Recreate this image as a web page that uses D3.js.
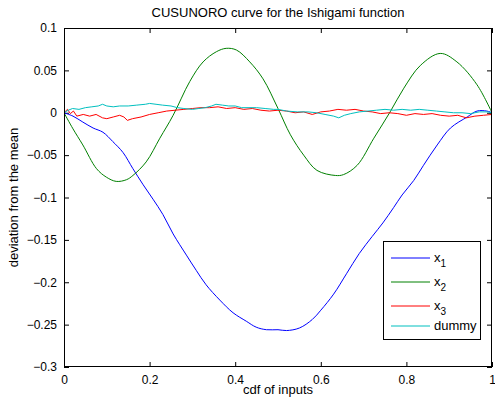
<!DOCTYPE html>
<html>
<head>
<meta charset="utf-8">
<script src="https://cdn.jsdelivr.net/npm/d3@7"></script>
<style>
  body { margin: 0; background: #fff; }
  text { font-family: "Liberation Sans", Arial, Helvetica, sans-serif; fill: #000; }
</style>
</head>
<body>
<svg id="chart" width="495" height="399"></svg>
<script>
const titleText = "CUSUNORO curve for the Ishigami function";
const xLabel = "cdf of inputs";
const yLabel = "deviation from the mean";
const xTicks = [0, 0.2, 0.4, 0.6, 0.8, 1];
const xTickLabels = ["0", "0.2", "0.4", "0.6", "0.8", "1"];
const yTicks = [0.1, 0.05, 0, -0.05, -0.1, -0.15, -0.2, -0.25, -0.3];
const yTickLabels = ["0.1", "0.05", "0", "\u22120.05", "\u22120.1", "\u22120.15", "\u22120.2", "\u22120.25", "\u22120.3"];
const seriesNames = ["x1", "x2", "x3", "dummy"];
const seriesColors = ["#0000ff", "#008000", "#ff0000", "#00bfbf"];

const x1Data = [[0,0],[0.021,-0.004],[0.044,-0.011],[0.068,-0.018],[0.091,-0.023],[0.114,-0.034],[0.138,-0.047],[0.161,-0.066],[0.185,-0.085],[0.208,-0.102],[0.231,-0.120],[0.255,-0.143],[0.286,-0.168],[0.309,-0.186],[0.332,-0.203],[0.364,-0.221],[0.395,-0.236],[0.426,-0.246],[0.449,-0.253],[0.473,-0.256],[0.5,-0.256],[0.52,-0.257],[0.55,-0.254],[0.58,-0.244],[0.6,-0.233],[0.63,-0.214],[0.66,-0.190],[0.69,-0.166],[0.72,-0.146],[0.745,-0.130],[0.77,-0.112],[0.79,-0.097],[0.817,-0.080],[0.84,-0.062],[0.872,-0.038],[0.903,-0.018],[0.942,-0.005],[0.965,0.002],[0.988,0.002],[1,0]];
const x2Data = [[0,0],[0.021,-0.019],[0.044,-0.038],[0.076,-0.066],[0.099,-0.076],[0.122,-0.081],[0.146,-0.079],[0.161,-0.074],[0.192,-0.058],[0.224,-0.030],[0.255,-0.003],[0.294,0.037],[0.325,0.060],[0.356,0.072],[0.379,0.076],[0.403,0.074],[0.434,0.060],[0.465,0.040],[0.5,0.005],[0.529,-0.026],[0.56,-0.050],[0.591,-0.068],[0.634,-0.074],[0.653,-0.073],[0.685,-0.062],[0.724,-0.030],[0.762,0.001],[0.794,0.029],[0.833,0.056],[0.879,0.070],[0.918,0.060],[0.965,0.033],[1,0]];
const x3Data = [[0,0],[0.008,0.004],[0.015,-0.001],[0.022,0.002],[0.03,-0.004],[0.045,-0.002],[0.06,-0.004],[0.075,-0.002],[0.09,-0.006],[0.1,-0.007],[0.115,-0.005],[0.13,-0.003],[0.14,-0.005],[0.148,-0.009],[0.16,-0.007],[0.18,-0.005],[0.2,-0.002],[0.22,0.000],[0.24,0.002],[0.26,0.003],[0.28,0.004],[0.3,0.005],[0.32,0.006],[0.34,0.006],[0.36,0.007],[0.38,0.005],[0.4,0.006],[0.42,0.004],[0.44,0.005],[0.46,0.003],[0.48,0.002],[0.5,0.003],[0.52,0.002],[0.54,0.000],[0.56,0.001],[0.58,-0.002],[0.6,0.001],[0.62,0.002],[0.64,0.004],[0.66,0.003],[0.68,0.004],[0.7,0.002],[0.72,0.001],[0.74,-0.001],[0.76,0.000],[0.78,-0.001],[0.8,-0.003],[0.82,-0.001],[0.84,-0.002],[0.86,-0.001],[0.88,-0.003],[0.9,-0.004],[0.92,-0.003],[0.94,-0.006],[0.96,-0.004],[0.98,-0.003],[1,-0.002]];
const dummyData = [[0,0],[0.01,0.003],[0.02,0.005],[0.035,0.004],[0.05,0.006],[0.065,0.007],[0.08,0.008],[0.09,0.010],[0.1,0.008],[0.115,0.007],[0.13,0.008],[0.15,0.008],[0.17,0.009],[0.19,0.010],[0.2,0.011],[0.215,0.010],[0.23,0.009],[0.25,0.008],[0.265,0.006],[0.28,0.005],[0.3,0.004],[0.315,0.005],[0.33,0.006],[0.345,0.008],[0.355,0.010],[0.37,0.009],[0.385,0.008],[0.4,0.008],[0.415,0.006],[0.43,0.006],[0.45,0.006],[0.47,0.005],[0.49,0.004],[0.5,0.004],[0.52,0.002],[0.545,0.001],[0.57,0.001],[0.59,0.000],[0.61,-0.002],[0.63,-0.004],[0.642,-0.006],[0.655,-0.003],[0.67,-0.001],[0.69,0.001],[0.71,0.002],[0.73,0.003],[0.75,0.004],[0.77,0.003],[0.79,0.004],[0.81,0.003],[0.83,0.004],[0.85,0.003],[0.87,0.002],[0.89,0.001],[0.91,0.000],[0.93,0.000],[0.95,-0.001],[0.97,0.001],[0.99,0.001],[1,0]];
const allSeries = [x1Data, x2Data, x3Data, dummyData];

const svg = d3.select("#chart");
const L = 64, T = 28, R = 492, B = 367;
const x = d3.scaleLinear().domain([0, 1]).range([L, R]);
const y = d3.scaleLinear().domain([-0.3, 0.1]).range([B, T]);

const tickLen = 5;
const fmtX = (d, i) => xTickLabels[i];
const fmtY = (d, i) => yTickLabels[i];
const axB = svg.append("g").attr("transform", `translate(0,${B})`)
  .call(d3.axisBottom(x).tickValues(xTicks).tickFormat(fmtX).tickSizeInner(-tickLen).tickSizeOuter(0).tickPadding(8));
const axT = svg.append("g").attr("transform", `translate(0,${T})`)
  .call(d3.axisTop(x).tickValues(xTicks).tickFormat("").tickSizeInner(-tickLen).tickSizeOuter(0));
const axL = svg.append("g").attr("transform", `translate(${L},0)`)
  .call(d3.axisLeft(y).tickValues(yTicks).tickFormat(fmtY).tickSizeInner(-tickLen).tickSizeOuter(0).tickPadding(7));
const axR = svg.append("g").attr("transform", `translate(${R},0)`)
  .call(d3.axisRight(y).tickValues(yTicks).tickFormat("").tickSizeInner(-tickLen).tickSizeOuter(0));
[axB, axT, axL, axR].forEach(g => {
  g.select(".domain").remove();
  g.selectAll("line").attr("stroke", "#000");
  g.selectAll("text").attr("font-size", 12).attr("font-family", "Liberation Sans, Arial, sans-serif");
});

const smooth = [true, true, false, false];
const clip = svg.append("clipPath").attr("id", "clip").append("rect")
  .attr("x", L).attr("y", T).attr("width", R - L).attr("height", B - T);
allSeries.forEach((s, i) => {
  const line = d3.line().x(d => x(d[0])).y(d => y(d[1]))
    .curve(smooth[i] ? d3.curveCatmullRom : d3.curveLinear);
  svg.append("path").datum(s).attr("d", line).attr("fill", "none")
    .attr("stroke", seriesColors[i]).attr("stroke-width", 1).attr("clip-path", "url(#clip)");
});

svg.append("rect").attr("x", L + 0.5).attr("y", T + 0.5).attr("width", R - L - 1).attr("height", B - T - 1)
  .attr("fill", "none").attr("stroke", "#000").attr("stroke-width", 1);

svg.append("text").attr("x", (L + R) / 2).attr("y", 17).attr("text-anchor", "middle")
  .attr("font-size", 13).text(titleText);
svg.append("text").attr("x", (L + R) / 2).attr("y", 394).attr("text-anchor", "middle")
  .attr("font-size", 13).text(xLabel);
svg.append("text").attr("transform", `translate(18,${(T + B) / 2}) rotate(-90)`).attr("text-anchor", "middle")
  .attr("font-size", 13).text(yLabel);

const lg = svg.append("g");
lg.append("rect").attr("x", 383.5).attr("y", 241.5).attr("width", 97).attr("height", 98)
  .attr("fill", "#fff").attr("stroke", "#000").attr("stroke-width", 1);
const legendY = [258, 282, 306, 326];
seriesNames.forEach((n, i) => {
  lg.append("line").attr("x1", 391).attr("x2", 430).attr("y1", legendY[i]).attr("y2", legendY[i])
    .attr("stroke", seriesColors[i]).attr("stroke-width", 1);
  const t = lg.append("text").attr("x", 434).attr("y", legendY[i] + 4).attr("font-size", 13);
  if (n === "dummy") {
    t.text("dummy");
  } else {
    t.append("tspan").text("x");
    t.append("tspan").attr("dy", 5).attr("font-size", 10).text(n.slice(1));
  }
});
</script>
</body>
</html>
